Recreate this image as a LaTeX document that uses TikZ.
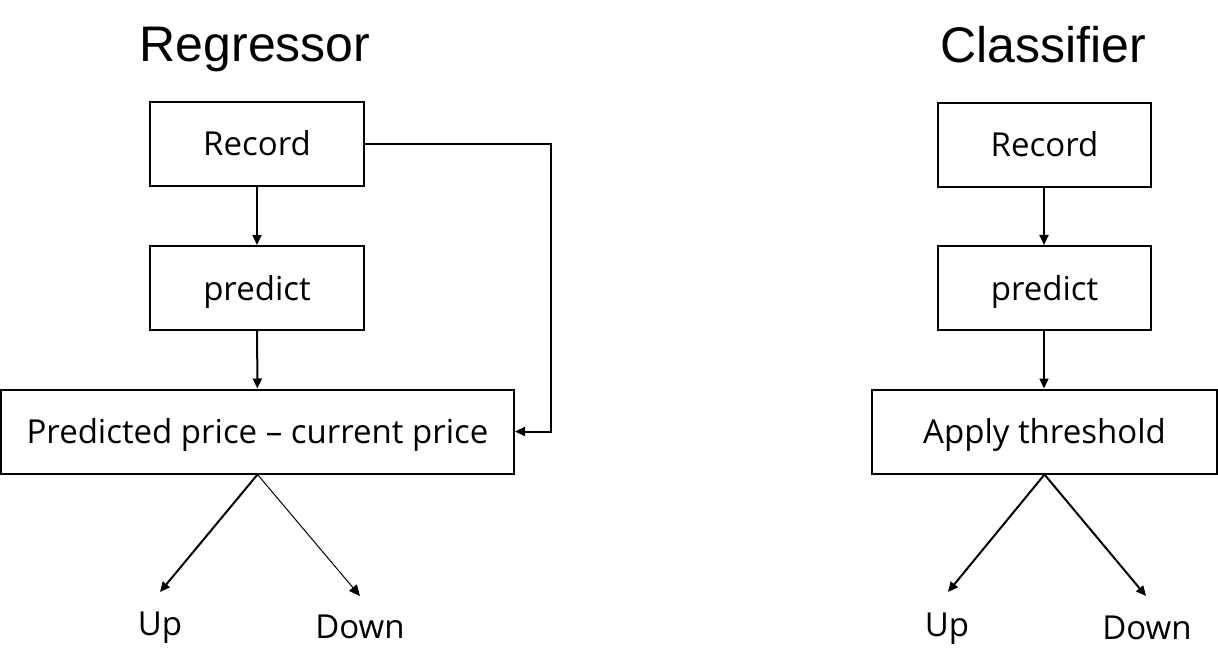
\documentclass[tikz,border=0pt]{standalone}
\usepackage{fontspec}
\setmainfont{Open Sans}
\newfontfamily\titlefont{Liberation Sans}
\usetikzlibrary{arrows.meta}
\begin{document}
\begin{tikzpicture}[x=1pt,y=-1pt,
  box/.style={draw,line width=2pt,minimum height=84pt,inner sep=0pt},
  txt/.style={font=\fontsize{33}{36}\selectfont,inner sep=0pt,anchor=base},
  conn/.style={line width=2pt,-{Triangle[length=10pt,width=9pt]}},
  thin conn/.style={line width=1pt,-{Triangle[length=11pt,width=10pt]}},
  ttl/.style={font=\titlefont\fontsize{50}{54}\selectfont,inner sep=0pt,anchor=base}]
\useasboundingbox (0,0) rectangle (1218,671);
% Regressor
\node[ttl] (t1) at (255,62) {Regressor};
\node[box,minimum width=214pt] (r1) at (257,144) {};
\node[box,minimum width=214pt] (p1) at (257,288) {};
\node[box,minimum width=513pt] (d1) at (257.5,431.5) {};
\node[txt] (r1t) at (257,156) {Record};
\node[txt] (p1t) at (257,300) {predict};
\node[txt] (d1t) at (257.5,443) {Predicted price – current price};
\coordinate (u1) at (160,592);
\coordinate (w1) at (360,596);
\node[txt] (up1) at (160,635) {Up};
\node[txt] (dn1) at (360,638) {Down};
\draw[conn] (r1) -- (p1);
\draw[conn] (p1) -- (d1);
\draw[conn] (r1.east) -- (551,144) |- (d1.east);
\draw[conn] (d1.south) -- (u1);
\draw[thin conn] (d1.south) -- (w1);
% Classifier
\node[ttl] (t2) at (1043,63) {Classifier};
\node[box,minimum width=213pt] (r2) at (1044.5,145) {};
\node[box,minimum width=213pt] (p2) at (1044.5,288) {};
\node[box,minimum width=345pt] (d2) at (1044.5,431.5) {};
\node[txt] (r2t) at (1044.5,157) {Record};
\node[txt] (p2t) at (1044.5,300) {predict};
\node[txt] (d2t) at (1044.5,443) {Apply threshold};
\coordinate (u2) at (948,592);
\coordinate (w2) at (1146,596);
\node[txt] (up2) at (947,636) {Up};
\node[txt] (dn2) at (1147,639) {Down};
\draw[conn] ([xshift=-0.5pt]r2.south) -- ([xshift=-0.5pt]p2.north);
\draw[conn] ([xshift=-0.5pt]p2.south) -- ([xshift=-0.5pt]d2.north);
\draw[conn] (d2.south) -- (u2);
\draw[conn] (d2.south) -- (w2);
\end{tikzpicture}
\end{document}
